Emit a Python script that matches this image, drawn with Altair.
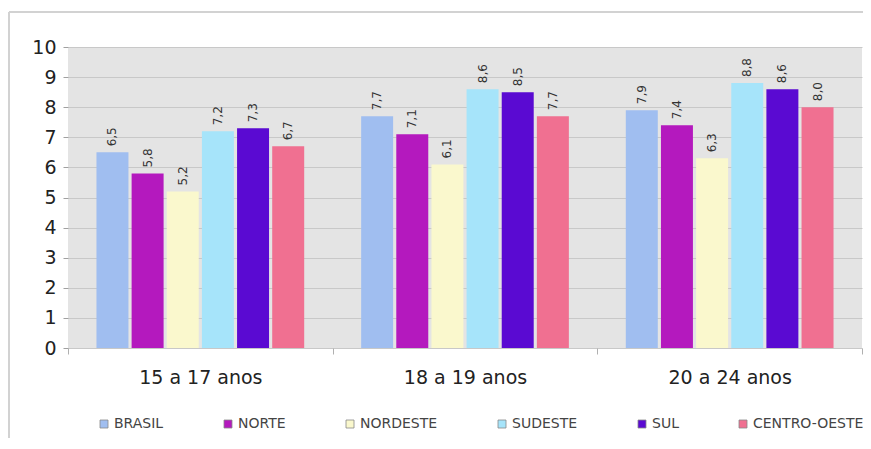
import altair as alt
import pandas as pd

groups = ["15 a 17 anos", "18 a 19 anos", "20 a 24 anos"]
regions = ["BRASIL", "NORTE", "NORDESTE", "SUDESTE", "SUL", "CENTRO-OESTE"]
colors = ["#A0BEF0", "#B419BE", "#FAF8CD", "#A6E4FA", "#5A0AD2", "#F07091"]

brasil = [6.5, 7.7, 7.9]
norte = [5.8, 7.1, 7.4]
nordeste = [5.2, 6.1, 6.3]
sudeste = [7.2, 8.6, 8.8]
sul = [7.3, 8.5, 8.6]
centro_oeste = [6.7, 7.7, 8.0]
y_ticks = [0, 1, 2, 3, 4, 5, 6, 7, 8, 9, 10]

series = [brasil, norte, nordeste, sudeste, sul, centro_oeste]
rows = []
for reg, vals in zip(regions, series):
    for g, v in zip(groups, vals):
        rows.append({"grupo": g, "regiao": reg, "valor": v})
df = pd.DataFrame(rows)

FONT = "DejaVu Sans"

x_enc = alt.X(
    "grupo:N",
    sort=groups,
    title=None,
    scale=alt.Scale(paddingInner=0, paddingOuter=0),
    axis=alt.Axis(
        labelAngle=0,
        labelFont=FONT,
        labelFontSize=19,
        labelColor="#222222",
        labelPadding=14,
        domain=False,
        ticks=True,
        tickBand="extent",
        tickSize=6,
        tickColor="#b0b0b0",
        grid=False,
    ),
)
xoff = alt.XOffset(
    "regiao:N",
    sort=regions,
    scale=alt.Scale(paddingInner=0.09, paddingOuter=0.81),
)
y_enc = alt.Y(
    "valor:Q",
    title=None,
    scale=alt.Scale(domain=[0, 10], nice=False),
    axis=alt.Axis(
        values=y_ticks,
        tickCount=12,
        labelOverlap=False,
        labelFont=FONT,
        labelFontSize=19,
        labelColor="#222222",
        labelPadding=7,
        domain=False,
        tickSize=5,
        tickColor="#a0a0a0",
        grid=True,
        gridColor="#c8c8c8",
        gridWidth=1,
    ),
)

base = alt.Chart(df)

bars = base.mark_bar().encode(
    x=x_enc,
    xOffset=xoff,
    y=y_enc,
    color=alt.Color(
        "regiao:N",
        sort=regions,
        scale=alt.Scale(domain=regions, range=colors),
        legend=alt.Legend(
            title=None,
            orient="none",
            direction="horizontal",
            legendX=29,
            legendY=370,
            columnPadding=57,
            labelFont=FONT,
            labelFontSize=14,
            labelColor="#444444",
            labelOffset=3,
            symbolType="square",
            symbolSize=64,
            symbolStrokeColor="#888888",
            symbolStrokeWidth=0.8,
        ),
    ),
)

labels = base.mark_text(
    angle=270,
    align="left",
    baseline="middle",
    dx=6,
    font=FONT,
    fontSize=12,
    color="#333333",
).transform_calculate(
    rotulo="replace(format(datum.valor, '.1f'), '.', ',')"
).encode(
    x=x_enc,
    xOffset=xoff,
    y=y_enc,
    text="rotulo:N",
)

frame = alt.Chart(alt.Data(values=[{}]))
left_line = frame.mark_rule(color="#d2d2d2", strokeWidth=2).encode(
    x=alt.value(-59), y=alt.value(-35), y2=alt.value(400)
)
top_line = frame.mark_rule(color="#d2d2d2", strokeWidth=2).encode(
    x=alt.value(-59), x2=alt.value(810), y=alt.value(-35)
)

chart = (
    alt.layer(bars, labels, left_line, top_line)
    .properties(
        width=794,
        height=301,
        autosize=alt.AutoSizeParams(type="none"),
        padding={"left": 60, "top": 39, "right": 1, "bottom": 90},
        background="white",
    )
    .configure_view(fill="#e4e4e4", strokeWidth=0)
)

chart.save("out.html", embed_options={"renderer": "svg", "actions": False})
